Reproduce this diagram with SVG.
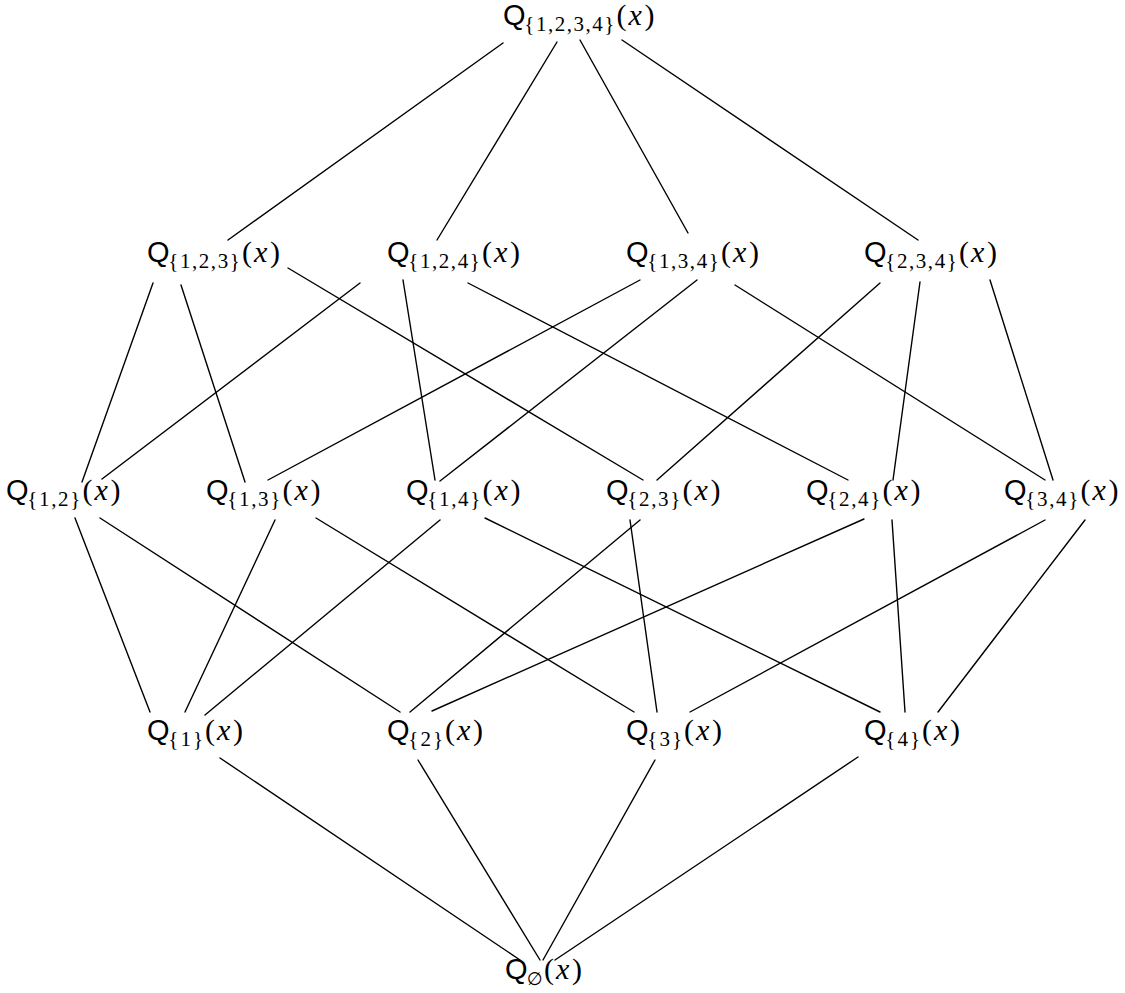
<svg xmlns="http://www.w3.org/2000/svg" width="1125" height="993" viewBox="0 0 1125 993">
<style>
#edges line{stroke:#000;stroke-width:1.4;stroke-linecap:round}
</style>
<defs>
<g id="px"><text x="0" y="0" font-family="Liberation Serif, DejaVu Serif, serif" font-size="30">(</text><text x="12" y="0" font-family="Liberation Serif, DejaVu Serif, serif" font-size="30" font-style="italic">x</text><text x="28" y="0" font-family="Liberation Serif, DejaVu Serif, serif" font-size="30">)</text></g>
</defs>
<rect width="1125" height="993" fill="#fff"/>
<g id="edges">
<line x1="503" y1="43" x2="228" y2="240"/>
<line x1="557" y1="42" x2="437" y2="240"/>
<line x1="580" y1="40" x2="688" y2="233"/>
<line x1="622" y1="40" x2="918" y2="240"/>
<line x1="153" y1="283" x2="82" y2="482"/>
<line x1="181" y1="285" x2="245" y2="482"/>
<line x1="288" y1="268" x2="643" y2="480"/>
<line x1="360" y1="283" x2="102" y2="479"/>
<line x1="403" y1="280" x2="435" y2="480"/>
<line x1="468" y1="283" x2="848" y2="480"/>
<line x1="640" y1="280" x2="268" y2="480"/>
<line x1="697" y1="280" x2="440" y2="481"/>
<line x1="735" y1="285" x2="1045" y2="480"/>
<line x1="880" y1="283" x2="657" y2="480"/>
<line x1="920" y1="282" x2="893" y2="480"/>
<line x1="990" y1="280" x2="1053" y2="480"/>
<line x1="75" y1="518" x2="150" y2="712"/>
<line x1="100" y1="518" x2="400" y2="712"/>
<line x1="275" y1="520" x2="185" y2="712"/>
<line x1="316" y1="518" x2="634" y2="712"/>
<line x1="440" y1="520" x2="205" y2="715"/>
<line x1="485" y1="518" x2="880" y2="712"/>
<line x1="640" y1="520" x2="410" y2="712"/>
<line x1="630" y1="520" x2="657" y2="712"/>
<line x1="864" y1="519" x2="432" y2="711"/>
<line x1="892" y1="520" x2="905" y2="712"/>
<line x1="1045" y1="520" x2="690" y2="712"/>
<line x1="1085" y1="520" x2="938" y2="712"/>
<line x1="220" y1="758" x2="520" y2="960"/>
<line x1="418" y1="760" x2="540" y2="960"/>
<line x1="655" y1="760" x2="543" y2="960"/>
<line x1="858" y1="757" x2="555" y2="960"/>
</g>
<g id="n1234"><text x="503" y="25" font-family="Liberation Sans, Arial, sans-serif" font-size="29">Q</text><text x="524.3" y="31" font-family="Liberation Serif, DejaVu Serif, serif" font-size="21" textLength="90" lengthAdjust="spacing">{1,2,3,4}</text><use href="#px" x="616.5" y="25"/></g>
<g id="n123"><text x="147" y="262" font-family="Liberation Sans, Arial, sans-serif" font-size="29">Q</text><text x="168.3" y="268" font-family="Liberation Serif, DejaVu Serif, serif" font-size="21" textLength="71.5" lengthAdjust="spacing">{1,2,3}</text><use href="#px" x="242" y="262"/></g>
<g id="n124"><text x="387" y="262" font-family="Liberation Sans, Arial, sans-serif" font-size="29">Q</text><text x="408.3" y="268" font-family="Liberation Serif, DejaVu Serif, serif" font-size="21" textLength="71.5" lengthAdjust="spacing">{1,2,4}</text><use href="#px" x="482" y="262"/></g>
<g id="n134"><text x="626" y="262" font-family="Liberation Sans, Arial, sans-serif" font-size="29">Q</text><text x="647.3" y="268" font-family="Liberation Serif, DejaVu Serif, serif" font-size="21" textLength="71.5" lengthAdjust="spacing">{1,3,4}</text><use href="#px" x="721" y="262"/></g>
<g id="n234"><text x="864" y="262" font-family="Liberation Sans, Arial, sans-serif" font-size="29">Q</text><text x="885.3" y="268" font-family="Liberation Serif, DejaVu Serif, serif" font-size="21" textLength="71.5" lengthAdjust="spacing">{2,3,4}</text><use href="#px" x="959" y="262"/></g>
<g id="n12"><text x="6" y="500" font-family="Liberation Sans, Arial, sans-serif" font-size="29">Q</text><text x="27.3" y="506" font-family="Liberation Serif, DejaVu Serif, serif" font-size="21" textLength="53" lengthAdjust="spacing">{1,2}</text><use href="#px" x="82.5" y="500"/></g>
<g id="n13"><text x="206" y="500" font-family="Liberation Sans, Arial, sans-serif" font-size="29">Q</text><text x="227.3" y="506" font-family="Liberation Serif, DejaVu Serif, serif" font-size="21" textLength="53" lengthAdjust="spacing">{1,3}</text><use href="#px" x="282.5" y="500"/></g>
<g id="n14"><text x="406" y="500" font-family="Liberation Sans, Arial, sans-serif" font-size="29">Q</text><text x="427.3" y="506" font-family="Liberation Serif, DejaVu Serif, serif" font-size="21" textLength="53" lengthAdjust="spacing">{1,4}</text><use href="#px" x="482.5" y="500"/></g>
<g id="n23"><text x="606" y="500" font-family="Liberation Sans, Arial, sans-serif" font-size="29">Q</text><text x="627.3" y="506" font-family="Liberation Serif, DejaVu Serif, serif" font-size="21" textLength="53" lengthAdjust="spacing">{2,3}</text><use href="#px" x="682.5" y="500"/></g>
<g id="n24"><text x="806" y="500" font-family="Liberation Sans, Arial, sans-serif" font-size="29">Q</text><text x="827.3" y="506" font-family="Liberation Serif, DejaVu Serif, serif" font-size="21" textLength="53" lengthAdjust="spacing">{2,4}</text><use href="#px" x="882.5" y="500"/></g>
<g id="n34"><text x="1004" y="500" font-family="Liberation Sans, Arial, sans-serif" font-size="29">Q</text><text x="1025.3" y="506" font-family="Liberation Serif, DejaVu Serif, serif" font-size="21" textLength="53" lengthAdjust="spacing">{3,4}</text><use href="#px" x="1080.5" y="500"/></g>
<g id="n1"><text x="147" y="740" font-family="Liberation Sans, Arial, sans-serif" font-size="29">Q</text><text x="168.3" y="746" font-family="Liberation Serif, DejaVu Serif, serif" font-size="21" textLength="34.7" lengthAdjust="spacing">{1}</text><use href="#px" x="205" y="740"/></g>
<g id="n2"><text x="387" y="740" font-family="Liberation Sans, Arial, sans-serif" font-size="29">Q</text><text x="408.3" y="746" font-family="Liberation Serif, DejaVu Serif, serif" font-size="21" textLength="34.7" lengthAdjust="spacing">{2}</text><use href="#px" x="445" y="740"/></g>
<g id="n3"><text x="626" y="740" font-family="Liberation Sans, Arial, sans-serif" font-size="29">Q</text><text x="647.3" y="746" font-family="Liberation Serif, DejaVu Serif, serif" font-size="21" textLength="34.7" lengthAdjust="spacing">{3}</text><use href="#px" x="684" y="740"/></g>
<g id="n4"><text x="864" y="740" font-family="Liberation Sans, Arial, sans-serif" font-size="29">Q</text><text x="885.3" y="746" font-family="Liberation Serif, DejaVu Serif, serif" font-size="21" textLength="34.7" lengthAdjust="spacing">{4}</text><use href="#px" x="922" y="740"/></g>
<g id="n0"><text x="505" y="979" font-family="Liberation Sans, Arial, sans-serif" font-size="29">Q</text><text x="527" y="985" font-family="DejaVu Sans, sans-serif" font-size="18">∅</text><use href="#px" x="544" y="979"/></g>
</svg>
